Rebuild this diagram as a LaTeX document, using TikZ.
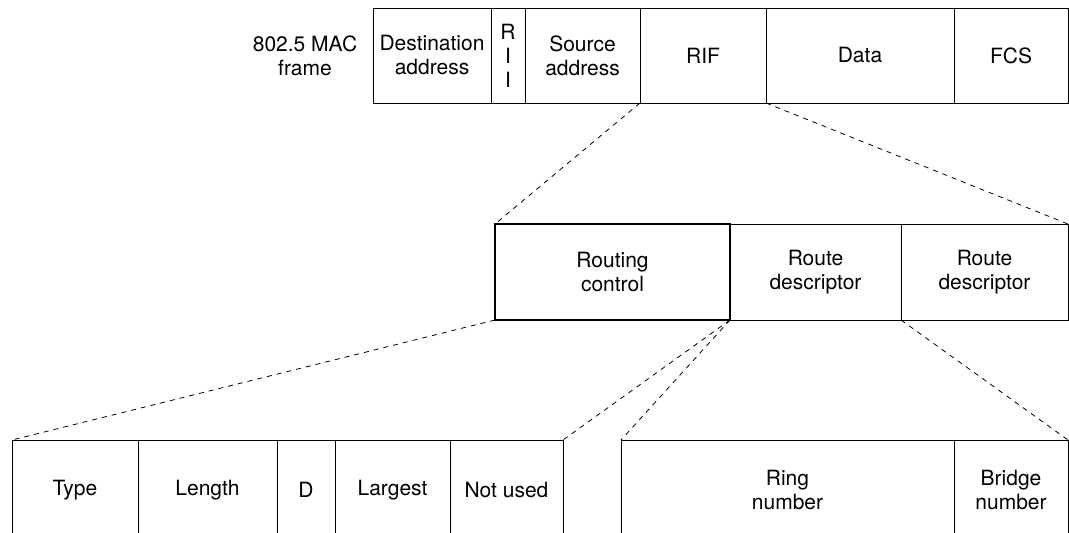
\documentclass[tikz,border=0pt]{standalone}
\usepackage{fontspec}
\setmainfont{TeX Gyre Heros}
\tikzset{
  field/.style={draw, line width=0.9pt, inner sep=0pt, outer sep=0pt, anchor=north west, align=center, font=\fontsize{21}{24}\selectfont},
  toprow/.style={field, minimum height=95pt},
  midrow/.style={field, minimum height=96pt},
  lowrow/.style={field, minimum height=100pt},
  zoomline/.style={line width=0.8pt, dash pattern=on 5pt off 5pt}
}
\begin{document}
\begin{tikzpicture}[x=1pt,y=-1pt]
\clip (0,0) rectangle (1069,533);

\node[align=center, font=\fontsize{21}{24}\selectfont] (framelbl) at (305,56) {802.5 MAC\\frame};
\node[toprow, minimum width=118pt] (dest) at (373,8) {Destination\\address};
\node[toprow, minimum width=34pt] (rii) at (491,8) {R\\I\\I};
\node[toprow, minimum width=115pt] (src) at (525,8) {Source\\address};
\node[toprow, minimum width=126pt] (rif) at (640,8) {RIF};
\node[toprow, minimum width=188pt] (data) at (766,8) {Data};
\node[toprow, minimum width=114pt] (fcs) at (954,8) {FCS};

\node[midrow, minimum width=235pt, line width=1.6pt] (rc) at (495,224) {Routing\\control};
\node[midrow, minimum width=171pt] (rd1) at (730,224) {Route\\descriptor};
\node[midrow, minimum width=167pt] (rd2) at (901,224) {Route\\descriptor};

\node[lowrow, minimum width=126pt] (type) at (12,440) {Type};
\node[lowrow, minimum width=139pt] (length) at (138,440) {Length};
\node[lowrow, minimum width=58pt] (dbit) at (277,440) {D};
\node[lowrow, minimum width=115pt] (largest) at (335,440) {Largest};
\node[lowrow, minimum width=113pt] (notused) at (450,440) {Not used};
\node[lowrow, minimum width=333pt] (ring) at (621,440) {Ring\\number};
\node[lowrow, minimum width=114pt] (bridge) at (954,440) {Bridge\\number};

\draw[zoomline] (rif.south west) -- (rc.north west);
\draw[zoomline] (rif.south east) -- (rd2.north east);
\draw[zoomline] (rc.south west) -- (type.north west);
\draw[zoomline] (rd1.south west) -- (notused.north east);
\draw[zoomline] (rd1.south west) -- (ring.north west);
\draw[zoomline] (rd1.south east) -- (bridge.north east);
\end{tikzpicture}
\end{document}
